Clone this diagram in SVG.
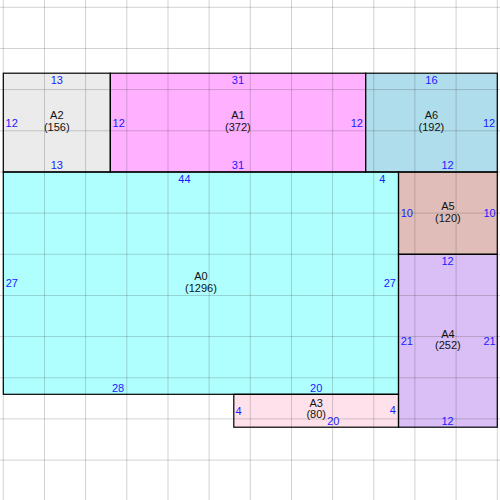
<svg xmlns="http://www.w3.org/2000/svg" width="500" height="500" viewBox="0 0 500 500">
<style>
.area{stroke:none}
.border{fill:none;stroke:#000;stroke-width:1.2}
.grid line{stroke:#3c3c3c;stroke-opacity:0.23;stroke-width:1}
.name{font-family:"Liberation Sans",Arial,sans-serif;font-size:11px;fill:#111;text-anchor:middle}
.e{font-family:"Liberation Sans",Arial,sans-serif;font-size:11px;fill:#1a1aff}
.m{text-anchor:middle}
.s{text-anchor:start}
.r{text-anchor:end}
</style>
<rect width="500" height="500" fill="#fff"/>
<g id="fills">
<rect class="area" x="3.3" y="73.2" width="107" height="98.8" fill="#EBEBEB"/>
<rect class="area" x="110.3" y="73.2" width="255.3" height="98.8" fill="#FFB0FF"/>
<rect class="area" x="365.6" y="73.2" width="131.7" height="98.8" fill="#B0DDEB"/>
<rect class="area" x="3.3" y="172" width="395.2" height="222.3" fill="#B0FFFF"/>
<rect class="area" x="398.5" y="172" width="98.8" height="82.3" fill="#E1BDB9"/>
<rect class="area" x="398.5" y="254.3" width="98.8" height="172.9" fill="#D9BFF5"/>
<rect class="area" x="233.8" y="394.3" width="164.7" height="32.9" fill="#FFE1EB"/>
</g>
<g class="grid" id="grid">
<line x1="3.3" y1="0" x2="3.3" y2="500"/>
<line x1="44.5" y1="0" x2="44.5" y2="500"/>
<line x1="85.6" y1="0" x2="85.6" y2="500"/>
<line x1="126.8" y1="0" x2="126.8" y2="500"/>
<line x1="168" y1="0" x2="168" y2="500"/>
<line x1="209.1" y1="0" x2="209.1" y2="500"/>
<line x1="250.3" y1="0" x2="250.3" y2="500"/>
<line x1="291.5" y1="0" x2="291.5" y2="500"/>
<line x1="332.6" y1="0" x2="332.6" y2="500"/>
<line x1="373.8" y1="0" x2="373.8" y2="500"/>
<line x1="414.9" y1="0" x2="414.9" y2="500"/>
<line x1="456.1" y1="0" x2="456.1" y2="500"/>
<line x1="497.3" y1="0" x2="497.3" y2="500"/>
<line x1="0" y1="7.3" x2="500" y2="7.3"/>
<line x1="0" y1="48.5" x2="500" y2="48.5"/>
<line x1="0" y1="89.6" x2="500" y2="89.6"/>
<line x1="0" y1="130.8" x2="500" y2="130.8"/>
<line x1="0" y1="172" x2="500" y2="172"/>
<line x1="0" y1="213.1" x2="500" y2="213.1"/>
<line x1="0" y1="254.3" x2="500" y2="254.3"/>
<line x1="0" y1="295.5" x2="500" y2="295.5"/>
<line x1="0" y1="336.6" x2="500" y2="336.6"/>
<line x1="0" y1="377.8" x2="500" y2="377.8"/>
<line x1="0" y1="418.9" x2="500" y2="418.9"/>
<line x1="0" y1="460.1" x2="500" y2="460.1"/>
</g>
<g id="A2">
<rect class="border" x="3.3" y="73.2" width="107" height="98.8"/>
<text class="name" x="56.8" y="119.4">A2</text>
<text class="name" x="56.8" y="130.9">(156)</text>
<text class="e m" x="56.8" y="83.7">13</text>
<text class="e m" x="56.8" y="169">13</text>
<text class="e s" x="5.6" y="127">12</text>
</g>
<g id="A1">
<rect class="border" x="110.3" y="73.2" width="255.3" height="98.8"/>
<text class="name" x="237.9" y="119.4">A1</text>
<text class="name" x="237.9" y="130.9">(372)</text>
<text class="e m" x="237.9" y="83.7">31</text>
<text class="e m" x="237.9" y="169">31</text>
<text class="e s" x="112.6" y="127">12</text>
<text class="e r" x="362.9" y="127">12</text>
</g>
<g id="A6">
<rect class="border" x="365.6" y="73.2" width="131.7" height="98.8"/>
<text class="name" x="431.4" y="119.4">A6</text>
<text class="name" x="431.4" y="130.9">(192)</text>
<text class="e m" x="431.4" y="83.7">16</text>
<text class="e m" x="447.5" y="169">12</text>
<text class="e r" x="495.2" y="127">12</text>
</g>
<g id="A0">
<rect class="border" x="3.3" y="172" width="395.2" height="222.3"/>
<text class="name" x="200.9" y="280">A0</text>
<text class="name" x="200.9" y="291.5">(1296)</text>
<text class="e m" x="184.4" y="182.5">44</text>
<text class="e m" x="382.2" y="182.5">4</text>
<text class="e m" x="118" y="391.6">28</text>
<text class="e m" x="316.2" y="391.6">20</text>
<text class="e s" x="5.7" y="286.8">27</text>
<text class="e r" x="395.9" y="286.8">27</text>
</g>
<g id="A5">
<rect class="border" x="398.5" y="172" width="98.8" height="82.3"/>
<text class="name" x="447.9" y="210">A5</text>
<text class="name" x="447.9" y="221.5">(120)</text>
<text class="e s" x="400.7" y="216.9">10</text>
<text class="e r" x="495.7" y="216.9">10</text>
</g>
<g id="A4">
<rect class="border" x="398.5" y="254.3" width="98.8" height="172.9"/>
<text class="name" x="447.9" y="337.6">A4</text>
<text class="name" x="447.9" y="349.1">(252)</text>
<text class="e m" x="447.5" y="265">12</text>
<text class="e m" x="447.5" y="425">12</text>
<text class="e s" x="400.7" y="345">21</text>
<text class="e r" x="495.7" y="345">21</text>
</g>
<g id="A3">
<rect class="border" x="233.8" y="394.3" width="164.7" height="32.9"/>
<text class="name" x="316.2" y="406.9">A3</text>
<text class="name" x="316.2" y="418.4">(80)</text>
<text class="e s" x="235.6" y="415">4</text>
<text class="e r" x="395.9" y="414.3">4</text>
<text class="e m" x="333.3" y="425">20</text>
</g>
<g id="connectors"></g>
</svg>
